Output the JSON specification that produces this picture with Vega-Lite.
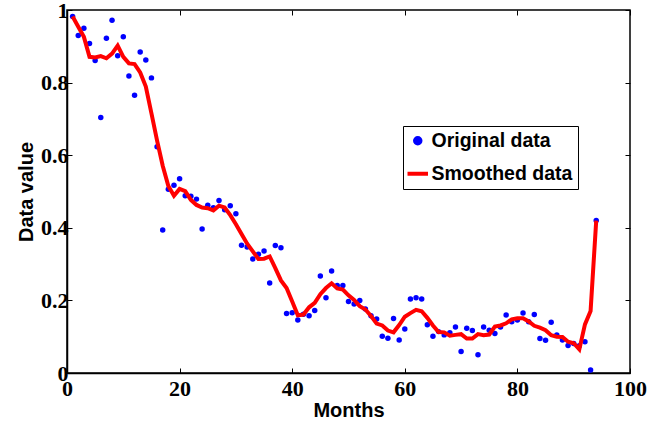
{
  "$schema": "https://vega.github.io/schema/vega-lite/v6.json",
  "width": 563,
  "height": 363,
  "autosize": {"type": "none"},
  "padding": {"left": 67, "top": 10, "right": 35, "bottom": 50},
  "background": "white",
  "config": {
    "font": "Liberation Sans",
    "view": {"stroke": "black", "strokeWidth": 1.5},
    "axis": {
      "grid": false,
      "domainColor": "black",
      "domainWidth": 1.5,
      "tickColor": "black",
      "tickWidth": 1,
      "tickSize": -5,
      "labelFlush": false,
      "labelFont": "Liberation Sans Narrow",
      "labelFontWeight": "bold",
      "labelFontSize": 22,
      "labelColor": "black",
      "titleFont": "Liberation Sans",
      "titleFontWeight": "bold",
      "titleFontSize": 20,
      "titleColor": "black"
    },
    "legend": {
      "title": null,
      "orient": "none",
      "legendX": 336,
      "legendY": 116,
      "fillColor": "white",
      "strokeColor": "black",
      "padding": 5,
      "rowPadding": 11,
      "labelFont": "Liberation Sans",
      "labelFontWeight": "bold",
      "labelFontSize": 19.5,
      "labelColor": "black",
      "labelOffset": 4,
      "symbolSize": 30,
      "symbolStrokeWidth": 4
    }
  },
  "data": {"values": [
    {"month": 1, "original": 0.982, "smoothed": 0.982},
    {"month": 2, "original": 0.930, "smoothed": 0.954},
    {"month": 3, "original": 0.950, "smoothed": 0.926},
    {"month": 4, "original": 0.908, "smoothed": 0.871},
    {"month": 5, "original": 0.861, "smoothed": 0.869},
    {"month": 6, "original": 0.704, "smoothed": 0.873},
    {"month": 7, "original": 0.922, "smoothed": 0.867},
    {"month": 8, "original": 0.972, "smoothed": 0.880},
    {"month": 9, "original": 0.874, "smoothed": 0.902},
    {"month": 10, "original": 0.926, "smoothed": 0.871},
    {"month": 11, "original": 0.818, "smoothed": 0.853},
    {"month": 12, "original": 0.765, "smoothed": 0.851},
    {"month": 13, "original": 0.884, "smoothed": 0.828},
    {"month": 14, "original": 0.862, "smoothed": 0.789},
    {"month": 15, "original": 0.813, "smoothed": 0.715},
    {"month": 16, "original": 0.623, "smoothed": 0.640},
    {"month": 17, "original": 0.394, "smoothed": 0.571},
    {"month": 18, "original": 0.506, "smoothed": 0.515},
    {"month": 19, "original": 0.517, "smoothed": 0.488},
    {"month": 20, "original": 0.535, "smoothed": 0.507},
    {"month": 21, "original": 0.488, "smoothed": 0.501},
    {"month": 22, "original": 0.487, "smoothed": 0.477},
    {"month": 23, "original": 0.479, "smoothed": 0.463},
    {"month": 24, "original": 0.397, "smoothed": 0.456},
    {"month": 25, "original": 0.462, "smoothed": 0.454},
    {"month": 26, "original": 0.455, "smoothed": 0.448},
    {"month": 27, "original": 0.475, "smoothed": 0.461},
    {"month": 28, "original": 0.450, "smoothed": 0.456},
    {"month": 29, "original": 0.461, "smoothed": 0.435},
    {"month": 30, "original": 0.439, "smoothed": 0.410},
    {"month": 31, "original": 0.352, "smoothed": 0.383},
    {"month": 32, "original": 0.347, "smoothed": 0.356},
    {"month": 33, "original": 0.314, "smoothed": 0.335},
    {"month": 34, "original": 0.327, "smoothed": 0.314},
    {"month": 35, "original": 0.336, "smoothed": 0.315},
    {"month": 36, "original": 0.248, "smoothed": 0.321},
    {"month": 37, "original": 0.351, "smoothed": 0.289},
    {"month": 38, "original": 0.345, "smoothed": 0.255},
    {"month": 39, "original": 0.164, "smoothed": 0.234},
    {"month": 40, "original": 0.166, "smoothed": 0.197},
    {"month": 41, "original": 0.146, "smoothed": 0.159},
    {"month": 42, "original": 0.162, "smoothed": 0.161},
    {"month": 43, "original": 0.158, "smoothed": 0.181},
    {"month": 44, "original": 0.172, "smoothed": 0.193},
    {"month": 45, "original": 0.267, "smoothed": 0.217},
    {"month": 46, "original": 0.207, "smoothed": 0.234},
    {"month": 47, "original": 0.281, "smoothed": 0.247},
    {"month": 48, "original": 0.241, "smoothed": 0.233},
    {"month": 49, "original": 0.241, "smoothed": 0.230},
    {"month": 50, "original": 0.197, "smoothed": 0.214},
    {"month": 51, "original": 0.190, "smoothed": 0.201},
    {"month": 52, "original": 0.200, "smoothed": 0.184},
    {"month": 53, "original": 0.176, "smoothed": 0.175},
    {"month": 54, "original": 0.158, "smoothed": 0.157},
    {"month": 55, "original": 0.149, "smoothed": 0.136},
    {"month": 56, "original": 0.101, "smoothed": 0.131},
    {"month": 57, "original": 0.096, "smoothed": 0.117},
    {"month": 58, "original": 0.150, "smoothed": 0.112},
    {"month": 59, "original": 0.091, "smoothed": 0.132},
    {"month": 60, "original": 0.121, "smoothed": 0.155},
    {"month": 61, "original": 0.204, "smoothed": 0.165},
    {"month": 62, "original": 0.207, "smoothed": 0.174},
    {"month": 63, "original": 0.204, "smoothed": 0.170},
    {"month": 64, "original": 0.133, "smoothed": 0.152},
    {"month": 65, "original": 0.101, "smoothed": 0.131},
    {"month": 66, "original": 0.114, "smoothed": 0.113},
    {"month": 67, "original": 0.105, "smoothed": 0.112},
    {"month": 68, "original": 0.111, "smoothed": 0.103},
    {"month": 69, "original": 0.127, "smoothed": 0.105},
    {"month": 70, "original": 0.059, "smoothed": 0.107},
    {"month": 71, "original": 0.123, "smoothed": 0.095},
    {"month": 72, "original": 0.117, "smoothed": 0.095},
    {"month": 73, "original": 0.050, "smoothed": 0.107},
    {"month": 74, "original": 0.127, "smoothed": 0.104},
    {"month": 75, "original": 0.118, "smoothed": 0.106},
    {"month": 76, "original": 0.109, "smoothed": 0.128},
    {"month": 77, "original": 0.127, "smoothed": 0.131},
    {"month": 78, "original": 0.160, "smoothed": 0.137},
    {"month": 79, "original": 0.141, "smoothed": 0.148},
    {"month": 80, "original": 0.146, "smoothed": 0.151},
    {"month": 81, "original": 0.165, "smoothed": 0.151},
    {"month": 82, "original": 0.141, "smoothed": 0.142},
    {"month": 83, "original": 0.161, "smoothed": 0.130},
    {"month": 84, "original": 0.095, "smoothed": 0.125},
    {"month": 85, "original": 0.090, "smoothed": 0.118},
    {"month": 86, "original": 0.140, "smoothed": 0.104},
    {"month": 87, "original": 0.105, "smoothed": 0.100},
    {"month": 88, "original": 0.091, "smoothed": 0.099},
    {"month": 89, "original": 0.076, "smoothed": 0.086},
    {"month": 90, "original": 0.081, "smoothed": 0.082},
    {"month": 91, "original": 0.075, "smoothed": 0.065},
    {"month": 92, "original": 0.086, "smoothed": 0.134},
    {"month": 93, "original": 0.008, "smoothed": 0.171},
    {"month": 94, "original": 0.420, "smoothed": 0.420}
  ]},
  "resolve": {"axis": {"x": "independent", "y": "independent"}},
  "layer": [
    {
      "mark": {"type": "point", "filled": true, "size": 30, "opacity": 1},
      "encoding": {
        "x": {"field": "month", "type": "quantitative",
              "scale": {"domain": [0, 100], "nice": false},
              "axis": {"title": "Months", "values": [0, 20, 40, 60, 80, 100], "labelPadding": 10, "titlePadding": 1}},
        "y": {"field": "original", "type": "quantitative",
              "scale": {"domain": [0, 1], "nice": false},
              "axis": {"title": "Data value", "values": [0, 0.2, 0.4, 0.6, 0.8, 1], "format": "~g", "labelPadding": 4, "titlePadding": 4}},
        "color": {"datum": "Original data", "type": "nominal",
                  "scale": {"domain": ["Original data", "Smoothed data"], "range": ["#0000ff", "#ff0000"]},
                  "legend": {
                    "encode": {
                      "symbols": {"update": {
                        "shape": {"signal": "datum.value === 'Smoothed data' ? 'stroke' : 'circle'"},
                        "size": {"signal": "datum.value === 'Smoothed data' ? 420 : 30"},
                        "fill": {"signal": "datum.value === 'Smoothed data' ? 'transparent' : '#0000ff'"},
                        "stroke": {"signal": "datum.value === 'Smoothed data' ? '#ff0000' : 'transparent'"},
                        "strokeWidth": {"value": 4},
                        "opacity": {"value": 1}
                      }}
                    }
                  }}
      }
    },
    {
      "mark": {"type": "line", "strokeWidth": 4},
      "encoding": {
        "x": {"field": "month", "type": "quantitative",
              "axis": {"orient": "top", "title": null, "labels": false, "domain": false, "values": [0, 20, 40, 60, 80, 100]}},
        "y": {"field": "smoothed", "type": "quantitative",
              "axis": {"orient": "right", "title": null, "labels": false, "domain": false, "values": [0, 0.2, 0.4, 0.6, 0.8, 1]}},
        "color": {"datum": "Smoothed data", "type": "nominal",
                  "legend": {
                    "encode": {
                      "symbols": {"update": {
                        "shape": {"signal": "datum.value === 'Smoothed data' ? 'stroke' : 'circle'"},
                        "size": {"signal": "datum.value === 'Smoothed data' ? 420 : 30"},
                        "fill": {"signal": "datum.value === 'Smoothed data' ? 'transparent' : '#0000ff'"},
                        "stroke": {"signal": "datum.value === 'Smoothed data' ? '#ff0000' : 'transparent'"},
                        "strokeWidth": {"value": 4},
                        "opacity": {"value": 1}
                      }}
                    }
                  }}
      }
    }
  ]
}
